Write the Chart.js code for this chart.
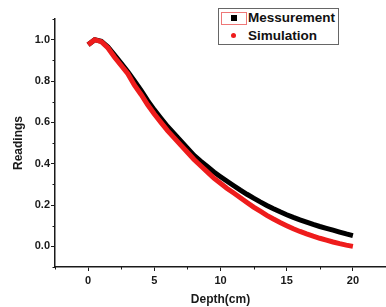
<!DOCTYPE html>
<html>
<head>
<meta charset="utf-8">
<script src="https://cdn.jsdelivr.net/npm/chart.js@4"></script>
<style>
  body { margin: 0; background: #fff; }
  #wrap { position: relative; width: 386px; height: 307px; }
  #legend {
    position: absolute; left: 218px; top: 8px; width: 119px; height: 35px;
    border: 1px solid #666; background: #fff;
    font: bold 13.5px "Liberation Sans", Arial, sans-serif; color: #111;
  }
  #legend .row { position: absolute; left: 29px; white-space: nowrap; line-height: 14px; }
  #sel { position: absolute; left: 2px; top: 3px; width: 24px; height: 11px; border: 1px solid #e77; }
  #sq { position: absolute; left: 12px; top: 6px; width: 6px; height: 6px; background: #000; }
  #dot { position: absolute; left: 12px; top: 24px; width: 5px; height: 5px; border-radius: 50%; background: #ee1c1c; }
</style>
</head>
<body>
<div id="wrap">
  <canvas id="chart" width="386" height="307"></canvas>
  <div id="legend">
    <div id="sel"></div><div id="sq"></div>
    <div class="row" style="top:2px">Messurement</div>
    <div id="dot"></div>
    <div class="row" style="top:20px">Simulation</div>
  </div>
</div>
<script>
// --- data ---
const depth = [0, 0.5, 1, 1.5, 2, 2.5, 3, 3.5, 4, 4.5, 5, 5.5, 6, 6.5, 7, 7.5, 8, 8.5, 9, 9.5, 10,
               10.5, 11, 11.5, 12, 12.5, 13, 13.5, 14, 14.5, 15, 15.5, 16, 16.5, 17, 17.5, 18, 18.5, 19, 19.5, 20];
const measurement = [0.975, 1.0, 0.992, 0.965, 0.925, 0.885, 0.845, 0.80, 0.755, 0.705, 0.66, 0.62, 0.58, 0.545, 0.51, 0.475, 0.44, 0.412, 0.386, 0.36, 0.337,
                     0.315, 0.293, 0.272, 0.252, 0.233, 0.215, 0.198, 0.182, 0.167, 0.153, 0.14, 0.128, 0.117, 0.106, 0.096, 0.087, 0.078, 0.069, 0.06, 0.052];
const simulation = [0.975, 1.0, 0.99, 0.96, 0.915, 0.875, 0.835, 0.78, 0.735, 0.685, 0.64, 0.60, 0.56, 0.525, 0.49, 0.455, 0.42, 0.39, 0.36, 0.33, 0.305,
                    0.28, 0.258, 0.235, 0.212, 0.19, 0.17, 0.15, 0.132, 0.115, 0.10, 0.085, 0.072, 0.06, 0.049, 0.039, 0.03, 0.021, 0.013, 0.006, 0.0];

const xTicks = [0, 5, 10, 15, 20];
const yTicks = [0, 0.2, 0.4, 0.6, 0.8, 1.0];
const xMinor = [-2.5, 2.5, 7.5, 12.5, 17.5, 22.5];
const yMinor = [-0.1, 0.1, 0.3, 0.5, 0.7, 0.9, 1.1];

const ink = '#1a1a1a';
const tickFont = { family: '"Liberation Sans", Arial, sans-serif', size: 11, weight: 'bold' };
const titleFont = { family: '"Liberation Sans", Arial, sans-serif', size: 12, weight: 'bold' };

// small minor ticks, placed through the scales
const minorTicks = {
  id: 'minorTicks',
  afterDraw(chart) {
    const { ctx, scales: { x, y }, chartArea } = chart;
    ctx.save();
    ctx.strokeStyle = ink;
    ctx.lineWidth = 1;
    xMinor.forEach(v => {
      const px = Math.round(x.getPixelForValue(v)) + 0.5;
      ctx.beginPath(); ctx.moveTo(px, chartArea.bottom); ctx.lineTo(px, chartArea.bottom + 2.5); ctx.stroke();
    });
    yMinor.forEach(v => {
      const py = Math.round(y.getPixelForValue(v)) + 0.5;
      ctx.beginPath(); ctx.moveTo(chartArea.left - 2.5, py); ctx.lineTo(chartArea.left, py); ctx.stroke();
    });
    ctx.restore();
  }
};

new Chart(document.getElementById('chart'), {
  type: 'scatter',
  data: {
    datasets: [
      { label: 'Messurement', data: depth.map((d, i) => ({ x: d, y: measurement[i] })),
        showLine: true, borderColor: '#000', backgroundColor: '#000', borderWidth: 5,
        pointRadius: 0, order: 2 },
      { label: 'Simulation', data: depth.map((d, i) => ({ x: d, y: simulation[i] })),
        showLine: true, borderColor: '#ee1c1c', backgroundColor: '#ee1c1c', borderWidth: 5,
        pointRadius: 0, order: 1 }
    ]
  },
  options: {
    responsive: false,
    animation: false,
    devicePixelRatio: 1,
    layout: { padding: { top: 19, right: 0, left: 0, bottom: 0 } },
    plugins: { legend: { display: false }, tooltip: { enabled: false } },
    scales: {
      x: {
        type: 'linear', min: -2.5, max: 22.5,
        afterBuildTicks: s => { s.ticks = xTicks.map(v => ({ value: v })); },
        afterFit: s => { s.height = 40; s.paddingLeft = 0; s.paddingRight = 0; },
        ticks: { font: tickFont, color: ink, padding: 3, maxRotation: 0 },
        grid: { drawOnChartArea: false, tickLength: 4, tickColor: ink, tickWidth: 1 },
        border: { color: ink, width: 1.5 },
        title: { display: true, text: 'Depth(cm)', font: titleFont, color: ink, padding: { top: 0, bottom: 0 } }
      },
      y: {
        type: 'linear', min: -0.1, max: 1.1,
        afterBuildTicks: s => { s.ticks = yTicks.map(v => ({ value: v })); },
        afterFit: s => { s.width = 55; s.paddingTop = 0; s.paddingBottom = 0; },
        ticks: { font: tickFont, color: ink, padding: 1, callback: v => v.toFixed(1) },
        grid: { drawOnChartArea: false, tickLength: 4, tickColor: ink, tickWidth: 1 },
        border: { color: ink, width: 1.5 },
        title: { display: true, text: 'Readings', font: titleFont, color: ink, padding: { top: 11, bottom: 0 } }
      }
    }
  },
  plugins: [minorTicks]
});
</script>
</body>
</html>
